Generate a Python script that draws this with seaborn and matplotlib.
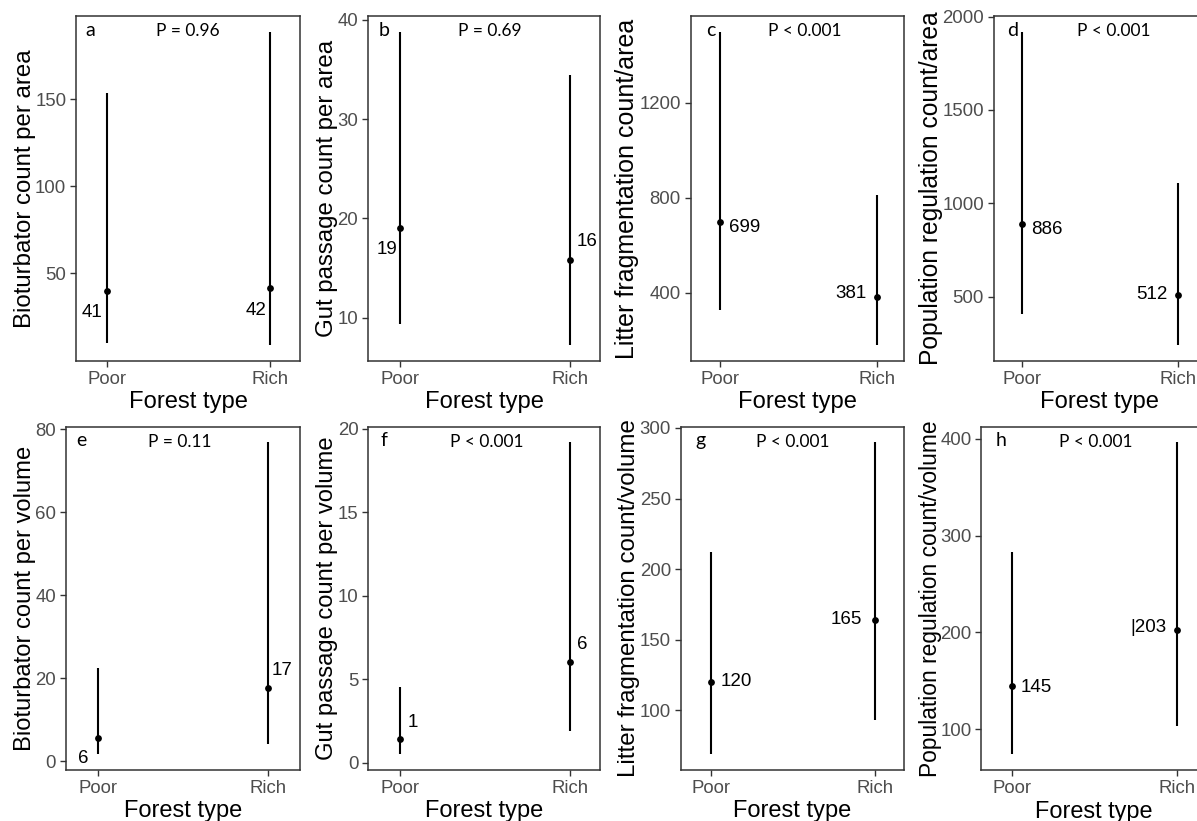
import matplotlib
matplotlib.use("Agg")
import matplotlib.pyplot as plt
import seaborn as sns
import pandas as pd
import numpy as np

# ---------------- data ----------------
forest_types = ["Poor", "Rich"]
panel_letters = ["a", "b", "c", "d", "e", "f", "g", "h"]
y_titles = [
    "Bioturbator count per area",
    "Gut passage count per area",
    "Litter fragmentation count/area",
    "Population regulation count/area",
    "Bioturbator count per volume",
    "Gut passage count per volume",
    "Litter fragmentation count/volume",
    "Population regulation count/volume",
]
p_texts = ["P = 0.96", "P = 0.69", "P < 0.001", "P < 0.001",
           "P = 0.11", "P < 0.001", "P < 0.001", "P < 0.001"]
means = [
    [39.8, 41.7], [19.05, 15.8], [697, 383], [889, 509],
    [5.6, 17.6], [1.4, 6.06], [120.3, 164.2], [144.8, 202.8],
]
lower = [
    [10, 8.5], [9.3, 7.2], [327, 179], [409, 239],
    [1.6, 4.0], [0.5, 1.9], [68.8, 93.1], [74, 103.4],
]
upper = [
    [153.9, 189], [38.8, 34.4], [1500, 814], [1919, 1110],
    [22.5, 76.9], [4.54, 19.2], [212, 289.8], [282.7, 396.5],
]
value_labels = [
    ["41", "42"], ["19", "16"], ["699", "381"], ["886", "512"],
    ["6", "17"], ["1", "6"], ["120", "165"], ["145", "|203"],
]
y_ticks = [
    [50, 100, 150], [10, 20, 30, 40], [400, 800, 1200], [500, 1000, 1500, 2000],
    [0, 20, 40, 60, 80], [0, 5, 10, 15, 20], [100, 150, 200, 250, 300],
    [100, 200, 300, 400],
]

# ---------------- layout (pixels) ----------------
W, H = 1197, 821
boxes = [
    (76, 16, 300, 361), (368, 16, 600, 361), (690.7, 16, 904, 361), (993.7, 16, 1206, 361),
    (65.7, 426.7, 300, 770), (368.3, 426.7, 600, 770), (680.7, 426.7, 904, 770), (981.3, 426.7, 1207, 770),
]
xlims = [(-0.190, 1.184), (-0.188, 1.176), (-0.189, 1.174), (-0.181, 1.18),
         (-0.188, 1.186), (-0.186, 1.176), (-0.186, 1.18), (-0.187, 1.18)]
ylabel_sizes = [17.3, 17.3, 18.0, 17.7, 17.1, 17.1, 17.4, 16.4]
xlabel_sizes = [17.1, 17.1, 17.1, 17.1, 17.0, 17.0, 17.0, 16.9]
ylabel_pads = [-1.0, -0.3, 0.5, -0.5, -0.5, -0.3, -0.5, -1.0]
# label offsets in pixels (dx right, dy down)
label_offsets = [
    [(-15, 22), (-14, 23)], [(-13, 22), (17, -18)], [(24, 5), (-26, -3)], [(25, 6), (-26, 0)],
    [(-15, 21), (14, -18)], [(13, -17), (12.5, -17)], [(25, 0), (-28, 0)], [(24, 2), (-29, -2.5)],
]
letter_dx = [9, 11, 15, 13, 11, 12, 15, 14]
p_dx = [112, 122, 114, 120, 114, 118, 112, 114]

sns.set_theme(style="white")
plt.rcParams["font.family"] = ["Liberation Sans", "DejaVu Sans"]

fig = plt.figure(figsize=(W / 100, H / 100), dpi=100)
fig.patch.set_facecolor("white")

for i in range(8):
    l, t, r, b = boxes[i]
    ax = fig.add_axes([l / W, 1 - b / H, (r - l) / W, (b - t) / H])
    df = pd.DataFrame({
        "pos": [0, 1],
        "type": forest_types,
        "mean": means[i],
        "lo": lower[i],
        "hi": upper[i],
    })
    ax.vlines(df["pos"], df["lo"], df["hi"], color="black", linewidth=1.5, zorder=2)
    sns.scatterplot(data=df, x="pos", y="mean", ax=ax, color="black", s=24,
                    edgecolor="black", linewidth=0, zorder=3, legend=False)

    lo_all, hi_all = min(lower[i]), max(upper[i])
    rng = hi_all - lo_all
    ax.set_ylim(lo_all - 0.05 * rng, hi_all + 0.05 * rng)
    ax.set_xlim(*xlims[i])
    ax.set_xticks([0, 1])
    ax.set_xticklabels(forest_types)
    ax.set_yticks(y_ticks[i])
    ax.set_yticklabels([str(v) for v in y_ticks[i]])

    ax.tick_params(axis="both", which="major", direction="out", length=4, width=1,
                   color="#333333", labelcolor="#4D4D4D", labelsize=13.4, pad=3,
                   bottom=True, left=True)
    for s in ax.spines.values():
        s.set_color("#333333")
        s.set_linewidth(1.1)
    ax.grid(False)
    ax.set_facecolor("white")

    ax.set_xlabel("Forest type", fontsize=xlabel_sizes[i], color="black", labelpad=2)
    ax.set_ylabel(y_titles[i], fontsize=ylabel_sizes[i], color="black",
                  labelpad=ylabel_pads[i])

    for j in range(2):
        dx, dy = label_offsets[i][j]
        ax.annotate(value_labels[i][j], xy=(j, means[i][j]), xytext=(dx, -dy),
                    textcoords="offset pixels", ha="center", va="center",
                    fontsize=13.5, color="black")

    ax.annotate(panel_letters[i], xy=(0, 1), xycoords="axes fraction",
                xytext=(letter_dx[i], -14), textcoords="offset pixels",
                ha="left", va="center", fontsize=14, family=["Lato", "DejaVu Sans"],
                color="black")
    ax.annotate(p_texts[i], xy=(0, 1), xycoords="axes fraction",
                xytext=(p_dx[i], -15), textcoords="offset pixels",
                ha="center", va="center", fontsize=12.5, family=["Lato", "DejaVu Sans"],
                color="black")

fig.savefig("out.png", dpi=100, facecolor="white")
